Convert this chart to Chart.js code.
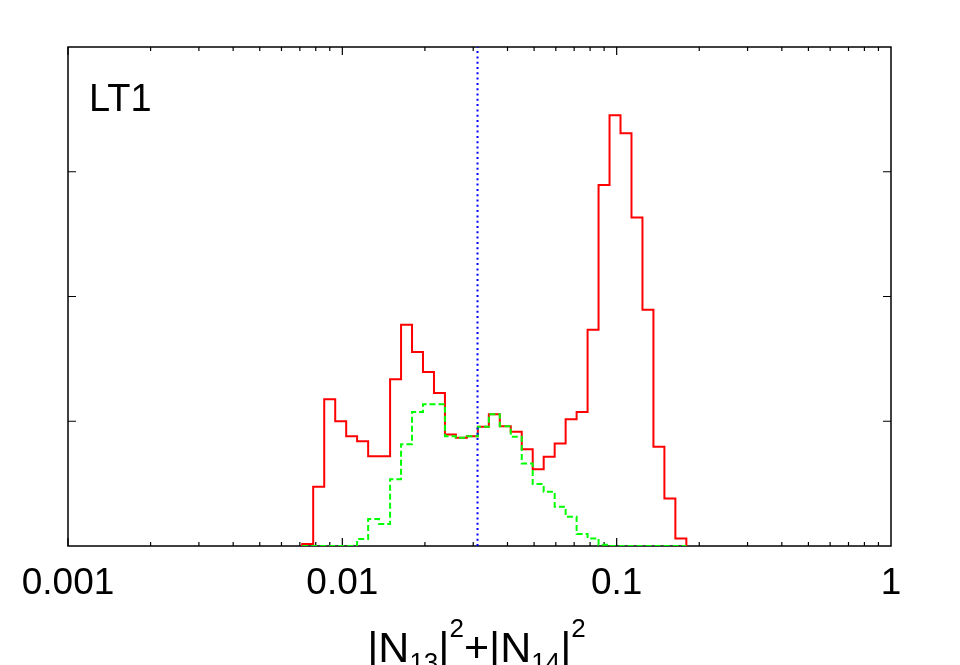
<!DOCTYPE html>
<html><head><meta charset="utf-8">
<script src="https://cdn.jsdelivr.net/npm/chart.js@4.4.1/dist/chart.umd.min.js"></script>
<style>html,body{margin:0;padding:0;background:#fff;}</style>
</head><body>
<canvas id="c" width="960" height="665"></canvas>
<script>
// ---- data ----
const binEdges = [0.00714,0.00783,0.00859,0.00942,0.01033,0.01132,0.01242,0.01361,0.01493,0.01637,
  0.01795,0.01968,0.02158,0.02366,0.02594,0.02844,0.03119,0.03420,0.03750,0.04111,
  0.04508,0.04943,0.05420,0.05943,0.06516,0.07145,0.07834,0.08590,0.09419,0.10328,
  0.11324,0.12417,0.13614,0.14928,0.16368,0.17947];
const redCounts = [0.016,0.474,1.176,1.0,0.88,0.84,0.72,0.72,1.336,1.773,
  1.555,1.395,1.227,0.893,0.867,0.88,0.955,1.056,0.96,0.915,
  0.776,0.616,0.715,0.821,1.016,1.075,1.733,2.893,3.453,3.309,
  2.634,1.893,0.795,0.381,0.061];
const greenCounts = [0,0,0,0,0,0.056,0.216,0.176,0.536,0.816,
  1.075,1.136,1.136,0.88,0.867,0.88,0.955,1.056,0.96,0.875,
  0.661,0.496,0.435,0.315,0.235,0.096,0.061,0.01,0,0,
  0,0,0,0,0];
const thresholdX = 0.0311;
const xTickValues = [0.001, 0.01, 0.1, 1];
const xTickLabels = ['0.001', '0.01', '0.1', '1'];
const yTickValues = [1, 2, 3];
const yMax = 4;
const panelLabel = 'LT1';
const xTitleParts = [
  {t:'|N', k:'main'}, {t:'13', k:'sub'}, {t:'|', k:'main'}, {t:'2', k:'sup'},
  {t:'+|N', k:'main'}, {t:'14', k:'sub'}, {t:'|', k:'main'}, {t:'2', k:'sup'}
];

function stepPoints(edges, counts) {
  const pts = [{x: edges[0], y: 0}];
  counts.forEach((c, i) => pts.push({x: edges[i], y: c}));
  pts.push({x: edges[edges.length - 1], y: 0});
  return pts;
}

const FONT = '"Liberation Sans", Arial, Helvetica, sans-serif';

const framePlugin = {
  id: 'frame',
  beforeDatasetsDraw(chart) {
    const ctx = chart.ctx, a = chart.chartArea;
    const xs = chart.scales.x, ys = chart.scales.y;
    ctx.save();
    ctx.strokeStyle = '#000';
    ctx.lineWidth = 1.5;
    ctx.strokeRect(a.left, a.top, a.right - a.left, a.bottom - a.top);
    ctx.lineWidth = 1.2;
    ctx.beginPath();
    for (let e = -3; e < 0; e++) {
      for (let m = 1; m <= 9; m++) {
        const v = m * Math.pow(10, e);
        const px = xs.getPixelForValue(v);
        const len = m === 1 ? 8 : 4;
        ctx.moveTo(px, a.bottom); ctx.lineTo(px, a.bottom - len);
        ctx.moveTo(px, a.top); ctx.lineTo(px, a.top + len);
      }
    }
    yTickValues.forEach(v => {
      const py = ys.getPixelForValue(v);
      ctx.moveTo(a.left, py); ctx.lineTo(a.left + 8, py);
      ctx.moveTo(a.right, py); ctx.lineTo(a.right - 8, py);
    });
    ctx.stroke();
    ctx.restore();
  },
  afterDraw(chart) {
    const ctx = chart.ctx, a = chart.chartArea;
    ctx.save();
    ctx.fillStyle = '#000';
    ctx.font = '38px ' + FONT;
    ctx.textBaseline = 'alphabetic';
    ctx.textAlign = 'left';
    ctx.fillText(panelLabel, a.left + 21, a.top + 64);

    const sizes = {main: 43, sub: 26, sup: 26};
    const offs = {main: 0, sub: 9, sup: -25};
    let total = 0;
    xTitleParts.forEach(p => { ctx.font = sizes[p.k] + 'px ' + FONT; total += ctx.measureText(p.t).width; });
    let x = (a.left + a.right) / 2 - 3 - total / 2;
    const base = 662;
    xTitleParts.forEach(p => {
      ctx.font = sizes[p.k] + 'px ' + FONT;
      ctx.fillText(p.t, x, base + offs[p.k]);
      x += ctx.measureText(p.t).width;
    });
    ctx.restore();
  }
};

new Chart(document.getElementById('c'), {
  type: 'line',
  data: {
    datasets: [
      {
        data: [{x: thresholdX, y: 0}, {x: thresholdX, y: yMax}],
        borderColor: '#0000ff', borderWidth: 2, borderDash: [2, 3.3],
        pointRadius: 0, fill: false
      },
      {
        data: stepPoints(binEdges, greenCounts),
        borderColor: '#00ff00', borderWidth: 2, borderDash: [6, 3],
        stepped: 'before', pointRadius: 0, fill: false
      },
      {
        data: stepPoints(binEdges, redCounts),
        borderColor: '#ff0000', borderWidth: 2,
        stepped: 'before', pointRadius: 0, fill: false
      }
    ]
  },
  options: {
    responsive: false,
    animation: false,
    devicePixelRatio: 1,
    layout: {padding: {top: 47, right: 69, left: 0, bottom: 0}},
    plugins: {legend: {display: false}, tooltip: {enabled: false}},
    scales: {
      x: {
        type: 'logarithmic', min: 0.001, max: 1,
        afterBuildTicks(scale) { scale.ticks = xTickValues.map(v => ({value: v})); },
        afterFit(scale) { scale.height = 119; },
        grid: {display: false, drawTicks: false},
        border: {display: false},
        ticks: {
          autoSkip: false, maxRotation: 0, padding: 16, color: '#000',
          font: {family: FONT, size: 37},
          callback(v) { const i = xTickValues.findIndex(t => Math.abs(Math.log10(t) - Math.log10(v)) < 1e-6); return i >= 0 ? xTickLabels[i] : ''; }
        }
      },
      y: {
        type: 'linear', min: 0, max: yMax,
        afterFit(scale) { scale.width = 68; },
        grid: {display: false, drawTicks: false},
        border: {display: false},
        ticks: {display: false}
      }
    }
  },
  plugins: [framePlugin]
});
</script>
</body></html>
